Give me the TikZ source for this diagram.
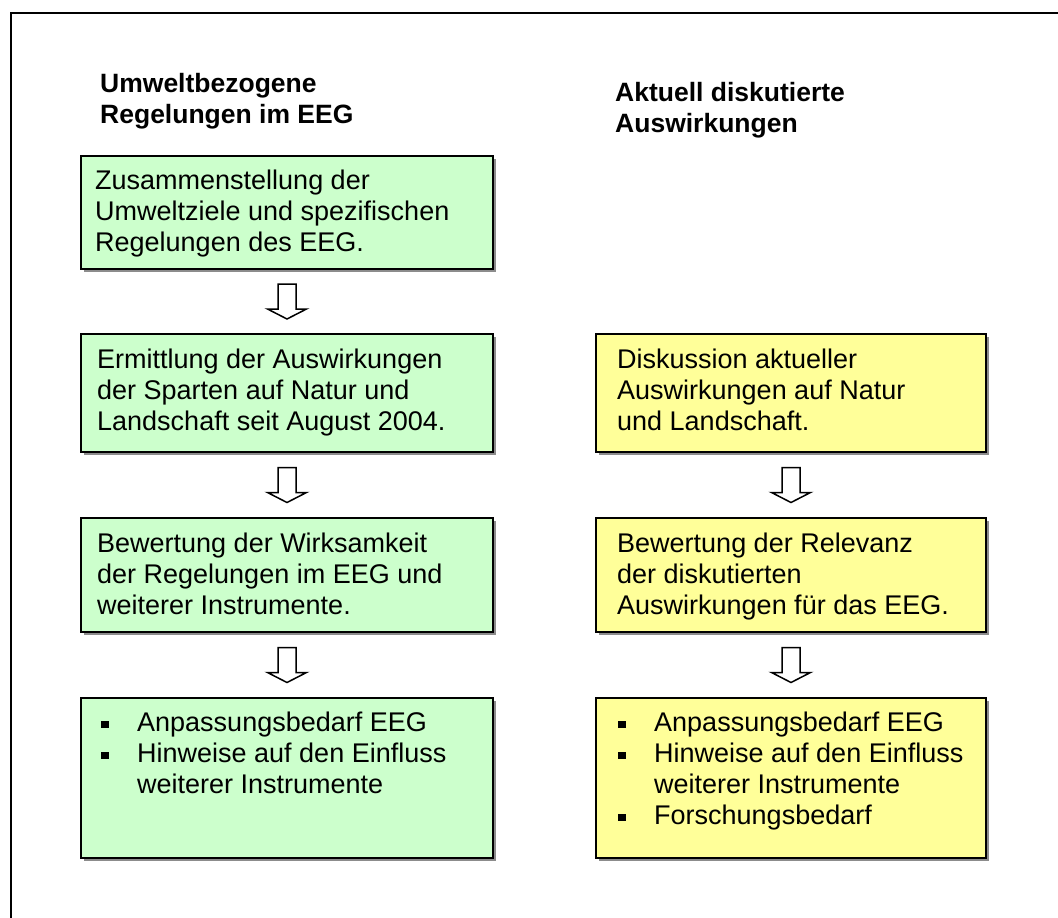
\documentclass[tikz,border=0pt]{standalone}
\usepackage{fontspec}
\setmainfont{Liberation Sans}
\usetikzlibrary{calc,shadows}
\definecolor{gfill}{HTML}{CCFFCC}
\definecolor{yfill}{HTML}{FFFF99}
\tikzset{
  boxbase/.style={draw=black,line width=2pt,anchor=north west,inner sep=0pt,
    drop shadow={shadow xshift=2.5pt,shadow yshift=-2.5pt,fill=black!45,opacity=1}},
  gbox/.style={boxbase,fill=gfill,minimum width=412pt},
  ybox/.style={boxbase,fill=yfill,minimum width=390pt},
  txt/.style={anchor=north west,inner sep=0pt,align=left,font=\fontsize{27}{31}\selectfont},
  hd/.style={txt,font=\fontsize{26.5}{31}\selectfont\bfseries},
  barrow/.style={draw=black,line width=1.5pt,fill=white,line join=miter},
  frame/.style={draw=black,line width=2.5pt}
}
\newcommand\blockarrowdown[1]{%
  \draw[barrow] ([shift={(-9,-17.5)}]#1) -- ([shift={(-9,7.5)}]#1)
    -- ([shift={(-19.5,7.5)}]#1) -- ([shift={(0,17.5)}]#1) -- ([shift={(19.5,7.5)}]#1)
    -- ([shift={(9,7.5)}]#1) -- ([shift={(9,-17.5)}]#1) -- cycle;}
\newcommand\bul{\makebox[36pt][l]{\rule[3.5pt]{7.5pt}{7.5pt}}}
\begin{document}
\begin{tikzpicture}[x=1pt,y=-1pt]
\useasboundingbox (0,0) rectangle (1058,918);
\fill[white] (0,0) rectangle (1058,918);
\draw[frame] (11,918) -- (11,13) -- (1058,13);

% headings
\node[hd] (h1) at (100,71) {\strut Umweltbezogene\\Regelungen im EEG};
\node[hd] (h2) at (615,80) {\strut Aktuell diskutierte\\Auswirkungen};

% left column
\node[gbox,minimum height=113pt] (g1) at (80,155) {};
\node[gbox,minimum height=118pt] (g2) at (80,333) {};
\node[gbox,minimum height=114pt] (g3) at (80,517) {};
\node[gbox,minimum height=160pt] (g4) at (80,697) {};

\node[txt] (tg1) at ([shift={(15,13)}]g1.north west) {\strut Zusammenstellung der\\Umweltziele und spezifischen\\Regelungen des EEG.};
\node[txt] (tg2) at ([shift={(17,13.5)}]g2.north west) {\strut Ermittlung der Auswirkungen\\der Sparten auf Natur und\\Landschaft seit August 2004.};
\node[txt] (tg3) at ([shift={(17,14)}]g3.north west) {\strut Bewertung der Wirksamkeit\\der Regelungen im EEG und\\weiterer Instrumente.};
\node[txt] (tg4) at ([shift={(21,13)}]g4.north west) {\strut\bul Anpassungsbedarf EEG\\\bul Hinweise auf den Einfluss\\\hspace*{36pt}weiterer Instrumente};

% right column
\node[ybox,minimum height=118pt] (y1) at (595,333) {};
\node[ybox,minimum height=114pt] (y2) at (595,517) {};
\node[ybox,minimum height=160pt] (y3) at (595,697) {};

\node[txt] (ty1) at ([shift={(22,13.5)}]y1.north west) {\strut Diskussion aktueller\\Auswirkungen auf Natur\\und Landschaft.};
\node[txt] (ty2) at ([shift={(22,14)}]y2.north west) {\strut Bewertung der Relevanz\\der diskutierten\\Auswirkungen f\"ur das EEG.};
\node[txt] (ty3) at ([shift={(23,13)}]y3.north west) {\strut\bul Anpassungsbedarf EEG\\\bul Hinweise auf den Einfluss\\\hspace*{36pt}weiterer Instrumente\\\bul Forschungsbedarf};

% arrows
\coordinate (a1) at ($(g1.south)!0.5!(g2.north)$);
\coordinate (a2) at ($(g2.south)!0.5!(g3.north)$);
\coordinate (a3) at ($(g3.south)!0.5!(g4.north)$);
\coordinate (b1) at ($(y1.south)!0.5!(y2.north)$);
\coordinate (b2) at ($(y2.south)!0.5!(y3.north)$);
\blockarrowdown{a1}
\blockarrowdown{a2}
\blockarrowdown{a3}
\blockarrowdown{b1}
\blockarrowdown{b2}
\end{tikzpicture}
\end{document}
